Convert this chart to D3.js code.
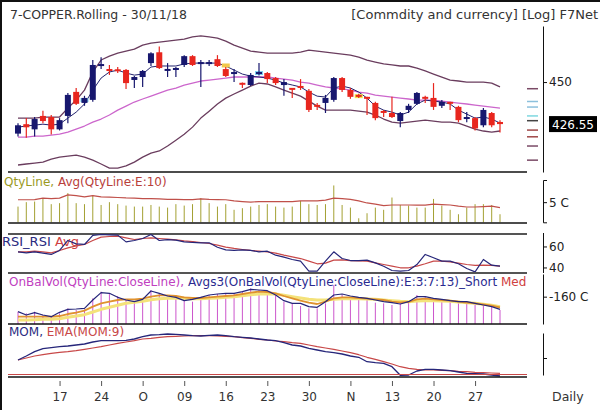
<!DOCTYPE html>
<html>
<head>
<meta charset="utf-8">
<script src="https://cdn.jsdelivr.net/npm/d3@7"></script>
<style>
  html, body { margin: 0; padding: 0; background: #fff; }
  svg { display: block; font-family: "DejaVu Sans", sans-serif; }
</style>
</head>
<body>
<div id="chart"></div>
<script>
/* MCX copper daily: candles, bands, volume, RSI, OBV, momentum. */

var dates = ["2018-09-10","2018-09-11","2018-09-12","2018-09-13","2018-09-14","2018-09-17","2018-09-18","2018-09-19","2018-09-20","2018-09-21",
  "2018-09-24","2018-09-25","2018-09-26","2018-09-27","2018-09-28","2018-10-01","2018-10-03","2018-10-04","2018-10-05","2018-10-08",
  "2018-10-09","2018-10-10","2018-10-11","2018-10-12","2018-10-15","2018-10-16","2018-10-17","2018-10-18","2018-10-19","2018-10-22",
  "2018-10-23","2018-10-24","2018-10-25","2018-10-26","2018-10-29","2018-10-30","2018-10-31","2018-11-01","2018-11-02","2018-11-05",
  "2018-11-06","2018-11-07","2018-11-08","2018-11-09","2018-11-12","2018-11-13","2018-11-14","2018-11-15","2018-11-16","2018-11-19",
  "2018-11-20","2018-11-21","2018-11-22","2018-11-23","2018-11-26","2018-11-27","2018-11-28","2018-11-29","2018-11-30"];

var tickDates = ["2018-09-17","2018-09-24","2018-10-01","2018-10-09","2018-10-16","2018-10-23","2018-10-30","2018-11-06","2018-11-13","2018-11-20","2018-11-27"];
var tickLabels = ["17","24","O","09","16","23","30","N","13","20","27"];

var open = [421.4,426.5,423.7,431.0,430.4,423.7,431.0,444.4,438.2,439.9,459.5,457.5,457.2,457.0,451.2,452.9,461.0,467.4,456.7,457.0,
  459.9,465.1,460.7,460.7,463.3,457.5,454.9,449.4,448.3,454.9,455.2,452.3,448.3,446.4,447.5,445.0,436.8,438.2,439.9,452.3,
  445.5,442.4,441.3,438.2,433.5,432.6,428.2,434.3,437.7,441.3,441.0,436.6,438.5,436.0,429.6,429.8,425.9,432.6,427.7];
var high = [427.0,429.8,430.4,433.8,431.5,429.8,443.8,446.6,442.2,462.8,464.5,459.9,458.7,457.5,453.5,457.0,467.4,470.9,461.0,458.7,
  465.7,465.7,462.8,462.8,465.7,458.7,457.5,449.7,455.2,461.0,455.8,452.9,451.7,446.6,451.7,446.1,438.2,442.7,452.9,452.9,
  446.6,443.3,441.6,438.8,434.3,441.6,433.2,437.7,444.4,442.2,449.4,439.9,438.8,436.6,433.2,430.4,435.4,433.2,428.7];
var low = [419.8,419.2,419.8,427.0,420.9,423.1,427.0,437.1,436.6,438.8,457.5,454.1,455.2,446.1,446.6,447.2,459.3,457.5,452.9,452.9,
  458.7,459.3,447.2,459.3,458.7,452.9,450.0,446.6,447.8,453.8,449.4,448.3,442.2,441.0,445.5,433.2,434.3,432.6,438.8,444.4,
  440.5,441.0,431.5,428.7,430.4,429.8,424.8,432.6,437.1,438.2,434.3,435.4,434.3,427.6,427.6,423.1,424.8,424.8,422.0];
var close = [425.9,424.8,429.3,428.2,423.7,428.7,442.7,437.7,441.0,459.9,460.2,456.4,456.4,449.4,452.9,456.4,466.8,458.1,457.3,458.1,
  465.1,459.9,461.3,461.3,459.3,453.5,455.5,448.6,454.1,455.5,451.7,449.4,450.0,445.8,446.9,434.3,436.3,441.0,452.3,445.5,
  441.6,441.9,440.8,429.8,432.9,430.4,432.6,436.6,443.8,440.8,436.0,438.8,438.0,428.7,430.1,424.2,434.3,425.9,426.55];

var bandUpper = [429.8,429.8,429.8,430.4,430.4,430.4,435.3,439.8,445.4,455.8,462.8,465.1,466.9,468.1,469.3,471.7,472.9,473.5,474.1,474.7,
  475.3,476.6,477.2,476.6,475.9,474.1,471.7,469.9,468.1,467.5,466.9,466.9,466.9,466.9,467.5,468.7,468.1,467.5,466.9,466.3,
  465.7,464.5,462.8,461.6,460.5,459.9,459.3,459.3,458.1,456.4,454.6,452.8,451.1,450.6,450.0,450.0,450.0,449.4,447.2];
var bandMid = [419.5,419.5,420.1,420.1,420.6,421.1,422.2,423.8,425.5,427.6,429.3,431.5,434.2,436.4,438.7,440.4,442.0,443.7,445.4,446.6,
  448.3,449.4,450.6,451.1,451.7,452.3,452.9,452.9,452.9,452.9,452.9,452.3,451.7,451.1,450.0,449.4,448.3,447.2,446.6,446.1,
  445.4,444.3,443.7,442.6,442.0,441.5,440.9,440.4,439.8,439.8,439.8,439.2,438.7,438.1,437.6,437.0,436.4,435.9,435.3];
var bandLower = [404.9,405.4,405.9,406.4,407.9,409.0,409.5,410.0,409.0,407.4,405.4,403.3,403.3,404.4,406.4,409.0,411.1,412.2,414.8,417.9,
  421.1,424.9,429.8,433.6,437.6,440.9,443.2,445.4,447.7,449.4,448.9,447.2,445.4,443.7,442.0,439.2,436.4,434.2,434.2,434.2,
  434.2,433.6,433.1,431.5,429.3,427.6,427.1,427.6,428.2,428.7,428.2,427.6,427.6,427.1,425.5,423.8,422.8,422.2,422.8];
var shortAvg = [424.9,425.5,426.0,426.5,426.0,426.5,429.8,433.1,437.6,445.4,452.3,455.8,456.9,455.2,454.0,454.6,458.7,459.3,459.3,459.3,
  460.5,461.0,461.0,461.0,461.0,459.3,456.9,454.6,453.4,452.9,452.3,451.1,449.4,448.3,447.2,444.3,442.0,441.5,446.6,447.7,
  446.6,444.3,440.9,436.4,434.2,433.1,431.5,433.1,437.6,439.8,439.2,438.7,437.6,434.2,432.0,429.8,430.4,429.3,427.1];

var markIdx = [8, 25, 29, 41];
var markPrice = [439.8, 459.6, 455.2, 442.0];
var markColor = ["#7fd0f0", "#f2c84a", "#7fd0f0", "#f2e64a"];

var levelPrices = [446.2, 439.0, 435.9, 431.0, 428.4, 423.3, 419.7, 414.8, 407.4];
var levelColors = ["#7a4a66", "#8cc0dc", "#8cc0dc", "#7fd8e0", "#444444", "#a04848", "#a04848", "#7a4a66", "#7a4a66"];
var lastPrice = 426.55;

var qty = [3.9,5.0,5.15,6.0,4.5,4.75,7.25,4.75,4.5,6.65,4.3,5.0,4.5,4.15,3.9,3.9,4.3,3.9,3.65,4.5,
  4.15,4.5,6.0,4.75,3.9,4.5,3.1,3.5,3.9,4.3,4.5,3.9,3.65,3.9,5.3,4.5,4.3,4.5,9.15,4.3,
  3.65,1.0,2.25,3.65,3.1,6.15,4.3,4.15,3.65,3.65,5.8,4.15,3.1,2.0,3.65,4.5,4.5,4.3,2.0];
var qtyAvg = [5.6,5.6,5.65,6.0,5.9,6.0,6.8,6.6,6.3,6.6,6.3,6.25,6.15,6.05,6.0,5.9,5.9,5.8,5.7,5.7,
  5.65,5.65,5.8,5.7,5.65,5.6,5.3,5.15,5.0,5.15,5.15,5.15,5.15,5.15,5.3,5.3,5.3,5.5,6.0,5.9,
  5.7,5.3,4.8,4.5,4.15,4.3,4.3,4.3,4.25,4.25,4.5,4.4,4.3,4.0,3.8,3.8,3.9,4.0,3.65];

var rsi = [54.9,53.9,54.9,53.6,52.4,56.2,65.7,62.5,61.9,70.5,71.4,71.1,70.8,64.4,65.7,67.6,71.4,65.7,66.6,66.0,
  64.4,63.8,63.5,63.5,59.3,56.8,56.2,56.8,56.2,54.9,55.5,51.7,49.8,47.6,46.0,36.5,36.5,46.0,54.9,48.5,
  46.6,46.6,47.0,44.4,41.2,37.1,36.5,37.1,42.8,52.4,49.2,46.0,46.0,43.5,39.0,35.8,47.6,42.2,41.2];
var rsiAvg = [54.9,54.9,55.5,54.9,53.9,56.2,58.7,60.6,61.9,65.7,68.9,69.5,69.8,68.2,66.6,67.6,68.2,67.6,67.0,66.3,
  65.4,64.7,63.8,62.8,61.2,59.3,58.1,57.1,56.2,55.5,54.9,53.6,51.7,50.1,48.5,46.0,43.5,44.1,47.0,47.3,
  46.6,46.3,46.0,44.4,42.8,41.2,39.7,39.7,41.2,43.5,46.0,46.0,45.4,44.1,42.8,41.9,42.2,41.9,41.2];

var obv = [-182.5,-185,-182.5,-187.5,-190,-185,-177.5,-180,-179,-162.5,-152.5,-155,-159,-165,-167.5,-165,-150,-155,-160,-162.5,
  -165,-167.5,-160,-157.5,-156,-155,-156,-152.5,-147.5,-150,-151,-157.5,-167.5,-170,-174,-177.5,-177.5,-170,-142.5,-157.5,
  -161,-162.5,-165,-169,-170,-172.5,-170,-167.5,-157.5,-160,-165,-164,-167.5,-170,-167.5,-172.5,-170,-174,-180];
var obvShort = [-182.5,-187.5,-184,-187.5,-190,-183.5,-179,-178.5,-177.5,-165,-154,-155,-161,-165,-167.5,-164,-151.5,-155,-159,-161,
  -166,-164,-161,-157.5,-156,-155,-155,-152.5,-149,-150,-151,-157.5,-166,-170,-170,-175,-176,-167.5,-157.5,-156,
  -159,-161,-162.5,-165,-167.5,-169,-171,-167.5,-160,-160,-162.5,-164,-166,-167.5,-167.5,-170,-172.5,-175,-179];
var obvMed = [-190,-190,-190,-190,-190,-189,-186,-184,-181,-175,-170,-167.5,-165,-164,-164,-163,-160,-158,-158,-159,
  -161,-162,-162,-161,-160,-159,-158,-156,-154,-152.5,-153,-155,-159,-162.5,-166,-169,-171,-167.5,-162.5,-161,
  -161,-162,-163,-164,-165,-167.5,-168.5,-168,-164,-163,-164,-165,-166,-167.5,-169,-170,-171.5,-173.5,-176];
var obvLong = [-195,-195,-194.5,-194,-194,-193,-191,-189,-187,-183,-179,-176,-173,-170,-168.5,-167,-164.5,-163,-162.5,-162.5,
  -162.5,-163,-163,-162.5,-162,-161,-160,-158.5,-157,-156,-155.5,-156,-158,-160,-162,-164,-165,-165,-164,-163,
  -163,-163,-163.5,-164,-165,-166,-167,-167.5,-166.5,-166,-166,-166.5,-167,-168,-169,-170,-171.5,-173,-175];

var mom = [16,20,24.3,27.3,28.3,29.3,30,31,32,34,35.3,35.3,35.3,35.7,37,39.3,41,41.3,42,41.7,
  41,40.3,40,40.7,41,40.3,39.3,38.7,38,37,36,35.3,33.3,31,30,27.7,26,24.3,23.3,22,
  20,18.7,14.3,13.3,12.7,9.3,0.7,1,5,6.7,6.7,6,5.3,4,2.7,2.3,2,1,0];
var momEma = [16,18,20,21.3,22.7,23.7,24.3,25.3,26.7,28,29.3,31,32.7,34,35.3,37,37.7,38.7,39.3,39.7,
  40,40.3,40.3,40.3,40,39.7,39.3,38.3,37.7,36.7,36,35,34.3,33.3,32.7,31,29.3,28,26.7,25,
  23.3,21.3,18.7,16.7,14.3,12,9.3,7.7,6.7,6,6,5.7,5.3,4.7,4.3,3.7,3.3,3,2.7];

var NAVY = "#17176e", RED = "#e8261e";
var width = 600, height = 410;
var left = 8, right = 527, axisX = 543;

var svg = d3.select("#chart").append("svg")
  .attr("width", width).attr("height", height)
  .attr("viewBox", "0 0 " + width + " " + height);

var x = d3.scalePoint().domain(dates).range([18, 500]);
var yPrice = d3.scaleLog().domain([401.3, 483.3]).range([172, 26]);
var yQty = d3.scaleLinear().domain([0, 10.5]).range([222.3, 180]);
var yRsi = d3.scaleLinear().domain([35.2, 73.3]).range([272.5, 232.5]);
var yObv = d3.scaleLinear().domain([-201, -126]).range([324, 274]);
var yMom = d3.scaleLinear().domain([1, 43]).range([375, 333]);

function seriesLine(values, scale, color, w) {
  svg.append("path")
    .datum(values)
    .attr("fill", "none")
    .attr("stroke", color)
    .attr("stroke-width", w)
    .attr("stroke-linejoin", "round")
    .attr("d", d3.line().x(function (d, i) { return x(dates[i]); }).y(function (d) { return scale(d); }));
}

function hline(y, color, w) {
  svg.append("line").attr("x1", left).attr("x2", right).attr("y1", y).attr("y2", y)
    .attr("stroke", color).attr("stroke-width", w);
}

function label(xPos, yPos, parts, size) {
  var t = svg.append("text").attr("x", xPos).attr("y", yPos).attr("font-size", size || 12);
  parts.forEach(function (p) { t.append("tspan").attr("fill", p[1]).text(p[0]); });
}

function rightAxis(scale, values, fmt, outer) {
  var g = svg.append("g").attr("transform", "translate(" + axisX + ",0)")
    .call(d3.axisRight(scale).tickValues(values).tickFormat(fmt).tickSize(4).tickSizeOuter(outer).tickPadding(2));
  g.selectAll("path, line").attr("stroke", "#111");
  g.selectAll("text").attr("font-size", 12).attr("font-family", "DejaVu Sans, sans-serif").attr("fill", "#222");
  return g;
}

/* frame */
svg.append("line").attr("x1", 0).attr("x2", width).attr("y1", 1).attr("y2", 1).attr("stroke", "#111").attr("stroke-width", 2);
svg.append("line").attr("x1", 1).attr("x2", 1).attr("y1", 0).attr("y2", height).attr("stroke", "#111").attr("stroke-width", 2);

/* headers */
label(10, 19, [["7-COPPER.Rolling - 30/11/18", "#333"]], 12.5);
svg.append("text").attr("x", 598).attr("y", 19).attr("text-anchor", "end").attr("font-size", 13)
  .attr("fill", "#333").text("[Commdity and currency] [Log] F7Net");

/* ---- price panel ---- */
seriesLine(bandUpper, yPrice, "#6a3d5e", 1.3);
seriesLine(bandLower, yPrice, "#6a3d5e", 1.3);
seriesLine(bandMid, yPrice, "#cc66cc", 1.3);
seriesLine(shortAvg, yPrice, "#23236e", 1);

markIdx.forEach(function (k, i) {
  svg.append("rect").attr("x", x(dates[k]) - 4).attr("y", yPrice(markPrice[i]) - 2)
    .attr("width", 8).attr("height", 4).attr("fill", markColor[i]);
});

dates.forEach(function (d, i) {
  var up = close[i] >= open[i];
  var col = up ? NAVY : RED;
  var cx = x(d);
  svg.append("line").attr("x1", cx).attr("x2", cx)
    .attr("y1", yPrice(high[i])).attr("y2", yPrice(low[i]))
    .attr("stroke", col).attr("stroke-width", 1.2);
  var yTop = yPrice(Math.max(open[i], close[i]));
  var yBot = yPrice(Math.min(open[i], close[i]));
  var h = Math.max(2, yBot - yTop);
  svg.append("rect").attr("x", cx - 3).attr("y", (yTop + yBot) / 2 - h / 2)
    .attr("width", 6).attr("height", h).attr("fill", col);
});

levelPrices.forEach(function (p, i) {
  svg.append("line").attr("x1", 527).attr("x2", 538).attr("y1", yPrice(p)).attr("y2", yPrice(p))
    .attr("stroke", levelColors[i]).attr("stroke-width", 1.5);
});

hline(172, "#111", 1.5);
rightAxis(yPrice, [450], d3.format("d"), 0);
var ly = yPrice(lastPrice);
svg.append("rect").attr("x", 549).attr("y", ly - 8).attr("width", 48).attr("height", 16).attr("fill", "#000");
svg.append("text").attr("x", 573).attr("y", ly + 4.5).attr("text-anchor", "middle").attr("font-size", 12)
  .attr("fill", "#fff").text(lastPrice.toFixed(2));

/* ---- volume panel ---- */
label(4, 186, [["QtyLine, ", "#9a9a1e"], ["Avg(QtyLine:E:10)", "#b8403a"]]);
dates.forEach(function (d, i) {
  svg.append("line").attr("x1", x(d)).attr("x2", x(d))
    .attr("y1", yQty(0)).attr("y2", yQty(qty[i]))
    .attr("stroke", "#a3a032").attr("stroke-width", 1);
});
seriesLine(qtyAvg, yQty, "#c0504a", 1.2);
hline(223, "#111", 1.5);
rightAxis(yQty, [5], function (v) { return v + " C"; }, 4);

/* ---- RSI panel ---- */
hline(234, "#555", 2);
label(2, 246, [["RSI_RSI ", "#2a2a80"], ["Avg", "#d04040"]], 13);
seriesLine(rsiAvg, yRsi, "#c84848", 1.2);
seriesLine(rsi, yRsi, "#26267a", 1.2);
hline(273, "#555", 2);
rightAxis(yRsi, [60, 40], d3.format("d"), 0);

/* ---- OBV panel ---- */
label(9, 286, [["OnBalVol(QtyLine:CloseLine), ", "#c040c0"],
  ["Avgs3(OnBalVol(QtyLine:CloseLine):E:3:7:13)_Short ", "#2a2a90"], ["Med", "#d04040"]]);
dates.forEach(function (d, i) {
  svg.append("line").attr("x1", x(d)).attr("x2", x(d))
    .attr("y1", yObv(-201)).attr("y2", yObv(obv[i]))
    .attr("stroke", "#cc55cc").attr("stroke-width", 1);
});
seriesLine(obvLong, yObv, "#f4e27a", 3);
seriesLine(obvMed, yObv, "#e0922e", 1.8);
seriesLine(obvShort, yObv, "#26267a", 1.2);
hline(324, "#111", 1.5);
rightAxis(yObv, [-160], function (v) { return v + " C"; }, 0);

/* ---- momentum panel ---- */
label(9, 336, [["MOM, ", "#2a2a80"], ["EMA(MOM:9)", "#c84848"]]);
seriesLine(momEma, yMom, "#c84848", 1.2);
seriesLine(mom, yMom, "#26267a", 1.3);
hline(374.5, "#c84848", 1);
hline(377, "#111", 1.5);
rightAxis(yMom, [18], function () { return ""; }, 0);

/* ---- date axis ---- */
var xa = svg.append("g").attr("transform", "translate(0,381)")
  .call(d3.axisBottom(x).tickValues(tickDates)
    .tickFormat(function (d, i) { return tickLabels[i]; }).tickSize(5).tickPadding(6));
xa.select(".domain").remove();
xa.selectAll("line").attr("stroke", "#555");
xa.selectAll("text").attr("font-size", 12).attr("font-family", "DejaVu Sans, sans-serif").attr("fill", "#333");

svg.append("text").attr("x", 552).attr("y", 401).attr("font-size", 12.5).attr("fill", "#333").text("Daily");
</script>
</body>
</html>
